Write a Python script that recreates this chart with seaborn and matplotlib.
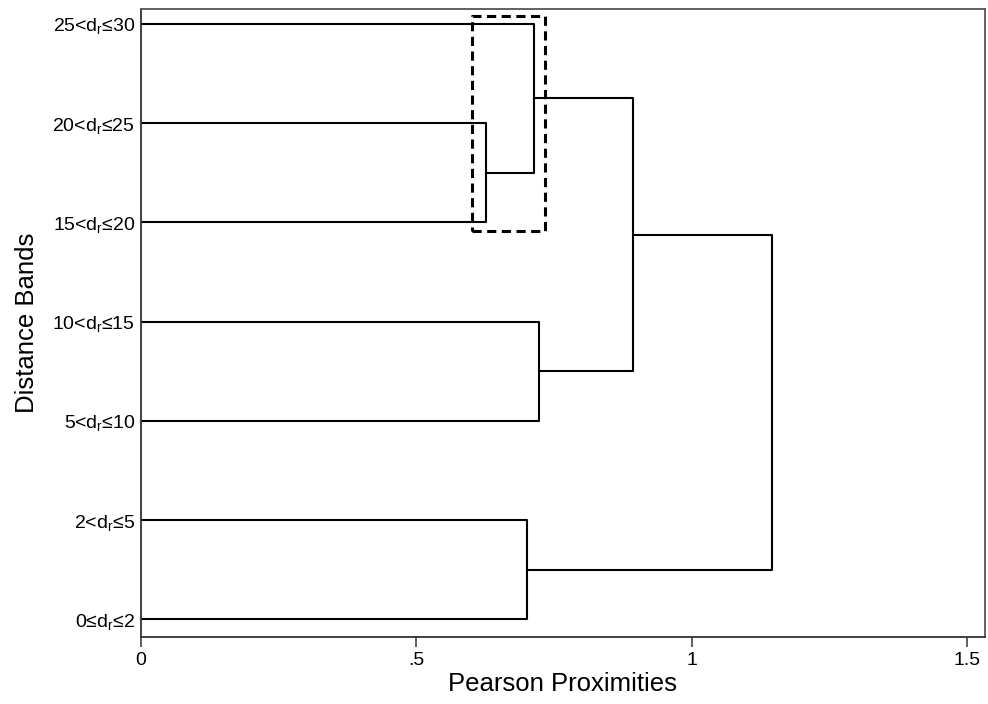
import numpy as np
import pandas as pd
import matplotlib
matplotlib.use("Agg")
import matplotlib.pyplot as plt
import seaborn as sns

# ---- data ----
leaf_labels = [
    r"0≤d$_{\mathrm{r}}$≤2",
    r"2<d$_{\mathrm{r}}$≤5",
    r"5<d$_{\mathrm{r}}$≤10",
    r"10<d$_{\mathrm{r}}$≤15",
    r"15<d$_{\mathrm{r}}$≤20",
    r"20<d$_{\mathrm{r}}$≤25",
    r"25<d$_{\mathrm{r}}$≤30",
]
leaf_pos = [1, 2, 3, 4, 5, 6, 7]
# merges: (child a, child b, height); leaves 0..6, new nodes 7..
merge_a = [4, 0, 7, 2, 10, 8]
merge_b = [5, 1, 6, 3, 9, 11]
merge_h = [0.627, 0.701, 0.713, 0.723, 0.893, 1.146]

x_ticks = [0, 0.5, 1, 1.5]
x_ticklabels = ["0", ".5", "1", "1.5"]

# highlighted region (dashed box)
box_x = [0.601, 0.733]
box_y = [4.915, 7.081]

# ---- build dendrogram segments ----
node_y = {i: p for i, p in enumerate(leaf_pos)}
node_h = {i: 0.0 for i in range(len(leaf_pos))}
rows = []
for k, (a, b, h) in enumerate(zip(merge_a, merge_b, merge_h)):
    nid = len(leaf_pos) + k
    pts = [(node_h[a], node_y[a]), (h, node_y[a]), (h, node_y[b]), (node_h[b], node_y[b])]
    for j, (px, py) in enumerate(pts):
        rows.append({"seg": k, "order": j, "x": px, "y": py})
    node_y[nid] = (node_y[a] + node_y[b]) / 2
    node_h[nid] = h
df = pd.DataFrame(rows)

# ---- plot ----
sns.set_theme(style="white")
plt.rcParams["font.family"] = ["Liberation Sans", "DejaVu Sans"]
plt.rcParams["mathtext.fontset"] = "custom"
plt.rcParams["mathtext.rm"] = "Liberation Sans"
plt.rcParams["mathtext.it"] = "Liberation Sans:italic"
plt.rcParams["mathtext.bf"] = "Liberation Sans:bold"
plt.rcParams["text.color"] = "black"
plt.rcParams["axes.labelcolor"] = "black"
plt.rcParams["xtick.color"] = "black"
plt.rcParams["ytick.color"] = "black"

fig = plt.figure(figsize=(9.88, 7.04), dpi=100)
ax = fig.add_axes([0.1424, 0.0956, 0.9965 - 0.1424, 0.9872 - 0.0956])

sns.lineplot(data=df, x="x", y="y", units="seg", estimator=None, sort=False,
             color="black", linewidth=1.5, ax=ax, legend=False)

ax.plot([box_x[0], box_x[1], box_x[1], box_x[0], box_x[0]],
        [box_y[0], box_y[0], box_y[1], box_y[1], box_y[0]],
        color="black", linewidth=2.2, linestyle=(0, (3.0, 1.8)))

ax.set_xlim(0, 1.531)
ax.set_ylim(0.825, 7.151)
ax.set_xticks(x_ticks)
ax.set_xticklabels(x_ticklabels)
ax.set_yticks(leaf_pos)
ax.set_yticklabels(leaf_labels)
ax.tick_params(axis="x", length=7, width=1.1, color="#333333", pad=4, labelsize=14,
               direction="out", bottom=True)
ax.tick_params(axis="y", length=0, pad=4, labelsize=14)

for side in ["top", "right"]:
    ax.spines[side].set_color("#555555")
    ax.spines[side].set_linewidth(1.3)
for side in ["left", "bottom"]:
    ax.spines[side].set_color("#333333")
    ax.spines[side].set_linewidth(1.3)

ax.set_xlabel("Pearson Proximities", fontsize=18.5, labelpad=2)
ax.set_ylabel("Distance Bands", fontsize=18.5, labelpad=10)

fig.savefig("out.png", dpi=100)
